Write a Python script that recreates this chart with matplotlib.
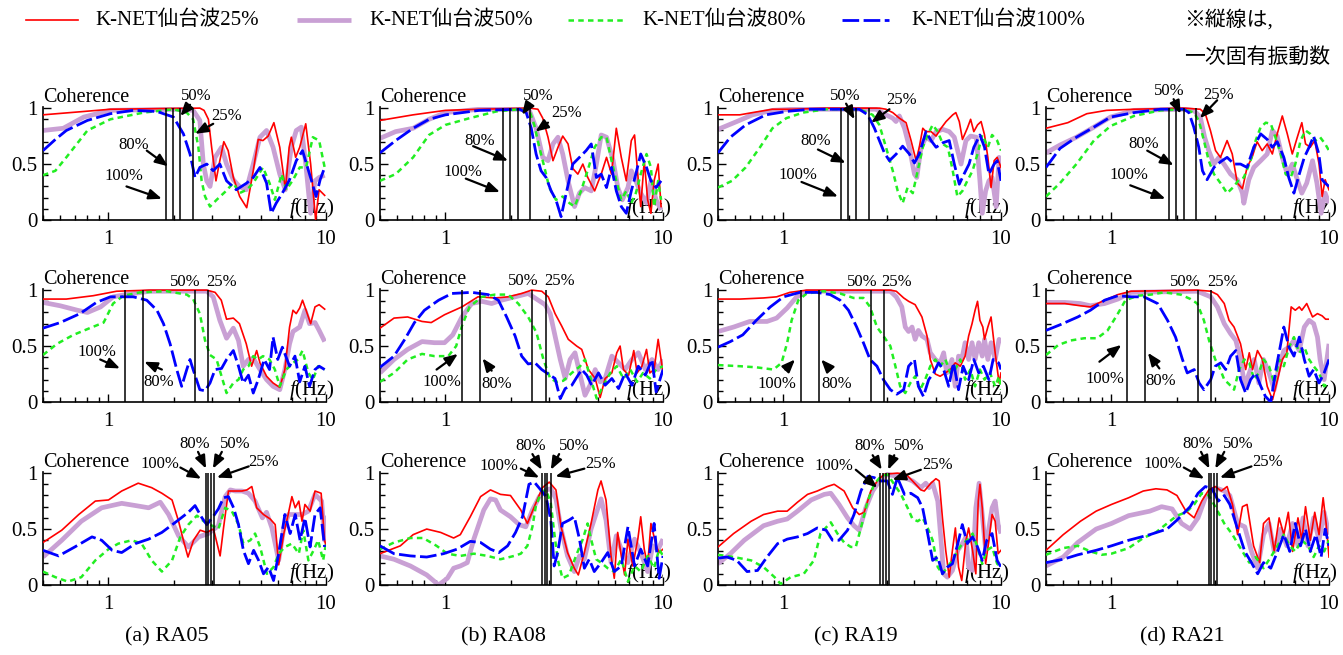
import matplotlib
matplotlib.use('Agg')
import matplotlib.pyplot as plt
from matplotlib.lines import Line2D
from matplotlib.ticker import FixedLocator, MultipleLocator, LogLocator, NullFormatter

plt.rcParams['font.family'] = ['Liberation Serif', 'Noto Sans CJK JP']
plt.rcParams['mathtext.fontset'] = 'custom'
plt.rcParams['mathtext.it'] = 'Liberation Serif:italic'
plt.rcParams['mathtext.rm'] = 'Liberation Serif'

# ---------------- data: (frequency Hz, coherence) ----------------
series_labels = ['K-NET仙台波25%', 'K-NET仙台波50%', 'K-NET仙台波80%', 'K-NET仙台波100%']
panel_titles = ['(a) RA05', '(b) RA08', '(c) RA19', '(d) RA21']

a1_25 = [(0.50,0.94),(0.77,0.97),(1.02,0.99),(2.63,1.00),(2.75,0.98),(2.88,0.90),(2.98,0.65),(3.12,0.35),(3.25,0.53),(3.39,0.70),(3.55,0.62),(3.75,0.38),(4.01,0.21),(4.32,0.11),(4.63,0.44),(4.88,0.72),(5.13,0.71),(5.42,0.75),(5.76,0.87),(6.13,0.65),(6.51,0.27),(6.77,0.65),(6.93,0.74),(7.25,0.56),(7.57,0.65),(8.07,0.86),(8.50,0.50),(8.96,0.00),(9.29,0.27),(9.86,0.22)]
a1_50 = [(0.50,0.80),(0.62,0.82),(0.77,0.92),(1.02,0.98),(2.13,0.99),(2.45,0.98),(2.63,0.89),(2.73,0.50),(2.83,0.35),(2.93,0.30),(3.09,0.56),(3.31,0.65),(3.49,0.50),(3.75,0.36),(4.00,0.30),(4.30,0.27),(4.63,0.50),(4.97,0.74),(5.33,0.80),(5.71,0.65),(6.13,0.41),(6.50,0.27),(6.93,0.65),(7.30,0.80),(7.70,0.83),(8.07,0.50),(8.50,0.06),(8.90,0.35),(9.30,0.38),(9.86,0.40)]
a1_80 = [(0.50,0.40),(0.57,0.44),(0.64,0.56),(0.80,0.80),(1.02,0.90),(1.45,0.96),(1.99,0.99),(2.29,0.96),(2.45,0.90),(2.59,0.65),(2.68,0.35),(2.78,0.21),(2.93,0.12),(3.14,0.18),(3.43,0.25),(3.75,0.33),(4.00,0.24),(4.32,0.27),(4.63,0.33),(5.13,0.47),(5.50,0.33),(5.82,0.18),(6.25,0.41),(6.57,0.27),(7.06,0.36),(7.57,0.47),(8.10,0.47),(8.70,0.74),(9.30,0.71),(9.86,0.47)]
a1_100 = [(0.50,0.62),(0.57,0.72),(0.64,0.80),(0.80,0.89),(1.02,0.95),(1.30,0.98),(1.67,0.97),(1.99,0.92),(2.21,0.77),(2.37,0.59),(2.50,0.38),(2.63,0.47),(2.83,0.50),(3.03,0.44),(3.25,0.50),(3.49,0.35),(3.87,0.27),(4.32,0.33),(4.63,0.38),(4.97,0.47),(5.33,0.33),(5.60,0.06),(5.90,0.15),(6.30,0.24),(6.80,0.36),(7.30,0.53),(7.80,0.62),(8.40,0.41),(9.00,0.21),(9.40,0.36),(9.86,0.47)]

a2_25 = [(0.50,0.92),(0.64,0.92),(0.85,0.95),(1.09,0.99),(1.55,1.00),(2.83,1.00),(3.09,0.98),(3.30,0.91),(3.49,0.74),(3.75,0.75),(4.00,0.70),(4.30,0.52),(4.55,0.32),(4.80,0.46),(4.97,0.35),(5.33,0.23),(5.71,0.17),(6.13,0.13),(6.47,0.29),(6.80,0.67),(7.05,0.82),(7.30,0.79),(7.57,0.84),(7.80,0.91),(8.10,0.82),(8.50,0.70),(8.90,0.85),(9.30,0.87),(9.86,0.83)]
a2_50 = [(0.50,0.89),(0.60,0.86),(0.72,0.82),(0.80,0.80),(0.92,0.85),(1.05,0.94),(1.20,0.96),(1.55,0.99),(2.83,0.99),(3.03,0.94),(3.25,0.73),(3.49,0.57),(3.75,0.66),(3.96,0.55),(4.16,0.32),(4.40,0.38),(4.63,0.39),(4.97,0.29),(5.33,0.20),(5.71,0.14),(6.13,0.11),(6.47,0.29),(6.80,0.52),(7.05,0.63),(7.57,0.67),(8.00,0.82),(8.40,0.70),(8.90,0.71),(9.30,0.64),(9.86,0.54)]
a2_80 = [(0.50,0.42),(0.58,0.52),(0.69,0.60),(0.82,0.66),(0.95,0.71),(1.05,0.88),(1.17,0.95),(1.40,0.98),(1.85,0.99),(2.29,0.96),(2.45,0.92),(2.63,0.79),(2.78,0.55),(2.93,0.42),(3.14,0.38),(3.31,0.23),(3.49,0.08),(3.75,0.17),(3.96,0.20),(4.16,0.29),(4.40,0.32),(4.63,0.41),(4.88,0.38),(5.13,0.41),(5.50,0.38),(5.82,0.29),(6.13,0.14),(6.57,0.29),(7.06,0.35),(7.44,0.38),(7.80,0.46),(8.30,0.26),(8.70,0.20),(9.20,0.32),(9.86,0.29)]
a2_100 = [(0.50,0.66),(0.60,0.71),(0.74,0.79),(0.88,0.89),(1.02,0.94),(1.30,0.94),(1.50,0.91),(1.67,0.82),(1.79,0.70),(1.92,0.52),(2.06,0.29),(2.17,0.14),(2.29,0.29),(2.37,0.38),(2.45,0.29),(2.63,0.11),(2.78,0.10),(2.93,0.17),(3.09,0.29),(3.31,0.30),(3.49,0.38),(3.75,0.46),(3.96,0.32),(4.16,0.17),(4.40,0.24),(4.63,0.08),(4.88,0.20),(5.20,0.38),(5.50,0.29),(5.71,0.58),(6.00,0.38),(6.30,0.49),(6.80,0.32),(7.20,0.41),(7.57,0.18),(8.00,0.32),(8.40,0.14),(8.90,0.29),(9.30,0.32),(9.86,0.29)]

a3_25 = [(0.50,0.38),(0.61,0.49),(0.73,0.63),(0.87,0.75),(1.00,0.76),(1.15,0.84),(1.37,0.91),(1.58,0.87),(1.76,0.82),(1.96,0.76),(2.10,0.57),(2.21,0.40),(2.32,0.25),(2.46,0.40),(2.64,0.49),(2.83,0.47),(3.04,0.50),(3.26,0.26),(3.38,0.51),(3.56,0.84),(3.83,0.84),(4.11,0.84),(4.33,0.85),(4.56,0.88),(4.80,0.69),(5.16,0.63),(5.54,0.59),(5.84,0.54),(6.06,0.18),(6.40,0.46),(6.70,0.63),(6.97,0.79),(7.22,0.69),(7.50,0.75),(7.76,0.57),(8.00,0.72),(8.45,0.66),(8.90,0.84),(9.50,0.82),(9.85,0.40),(10.0,0.35)]
a3_50 = [(0.50,0.25),(0.61,0.40),(0.75,0.57),(0.93,0.69),(1.15,0.73),(1.33,0.71),(1.53,0.69),(1.73,0.74),(1.89,0.63),(2.10,0.44),(2.33,0.34),(2.60,0.43),(2.88,0.46),(3.20,0.53),(3.44,0.79),(3.63,0.85),(3.83,0.84),(4.11,0.84),(4.40,0.82),(4.72,0.75),(5.10,0.60),(5.33,0.65),(5.64,0.51),(6.06,0.22),(6.40,0.51),(6.72,0.63),(7.22,0.63),(7.76,0.63),(8.30,0.66),(8.90,0.81),(9.55,0.75),(9.85,0.40),(10.0,0.62)]
a3_80 = [(0.50,0.12),(0.57,0.07),(0.65,0.03),(0.75,0.07),(0.87,0.22),(1.00,0.32),(1.11,0.37),(1.28,0.40),(1.42,0.37),(1.58,0.22),(1.76,0.12),(1.96,0.22),(2.14,0.43),(2.33,0.54),(2.55,0.62),(2.74,0.57),(2.93,0.54),(3.20,0.50),(3.44,0.69),(3.69,0.66),(3.96,0.54),(4.17,0.37),(4.49,0.40),(4.72,0.46),(4.98,0.34),(5.35,0.10),(5.74,0.16),(6.06,0.28),(6.47,0.34),(6.97,0.37),(7.50,0.28),(7.86,0.49),(8.30,0.22),(8.77,0.31),(9.20,0.40),(9.70,0.22),(10.0,0.37)]
a3_100 = [(0.50,0.31),(0.59,0.26),(0.70,0.34),(0.84,0.43),(0.93,0.40),(1.04,0.31),(1.15,0.29),(1.33,0.37),(1.53,0.41),(1.76,0.47),(2.03,0.56),(2.33,0.65),(2.50,0.71),(2.69,0.60),(2.83,0.54),(3.00,0.60),(3.20,0.68),(3.38,0.78),(3.56,0.79),(3.76,0.69),(3.96,0.54),(4.17,0.31),(4.40,0.19),(4.65,0.31),(4.90,0.22),(5.16,0.10),(5.44,0.16),(5.74,0.04),(6.06,0.28),(6.47,0.63),(6.84,0.46),(7.22,0.63),(7.60,0.40),(8.00,0.60),(8.45,0.34),(8.90,0.63),(9.40,0.69),(9.85,0.34)]

b1_25 = [(0.50,0.89),(0.71,0.94),(1.00,0.98),(1.43,0.99),(2.44,1.00),(2.66,0.99),(2.80,0.91),(2.96,0.74),(3.12,0.53),(3.29,0.65),(3.46,0.75),(3.66,0.68),(3.85,0.46),(4.06,0.41),(4.28,0.50),(4.51,0.38),(4.85,0.26),(5.20,0.41),(5.50,0.56),(5.80,0.41),(6.10,0.82),(6.43,0.56),(6.78,0.35),(7.15,0.71),(7.40,0.76),(7.70,0.35),(7.90,0.12),(8.20,0.53),(8.50,0.18),(8.80,0.06),(9.10,0.35),(9.50,0.50),(9.80,0.12)]
b1_50 = [(0.50,0.73),(0.59,0.79),(0.71,0.82),(0.84,0.90),(1.00,0.96),(1.43,0.99),(2.27,0.99),(2.44,0.97),(2.61,0.82),(2.80,0.56),(2.96,0.53),(3.12,0.68),(3.29,0.74),(3.46,0.59),(3.66,0.35),(3.92,0.12),(4.13,0.24),(4.36,0.29),(4.68,0.26),(4.94,0.50),(5.20,0.76),(5.50,0.74),(5.90,0.53),(6.20,0.29),(6.50,0.18),(6.90,0.29),(7.15,0.44),(7.50,0.35),(7.90,0.24),(8.40,0.15),(8.80,0.35),(9.30,0.18),(9.80,0.09)]
b1_80 = [(0.50,0.35),(0.59,0.41),(0.71,0.56),(0.84,0.76),(1.00,0.85),(1.29,0.91),(1.71,0.97),(2.19,0.99),(2.44,0.97),(2.56,0.85),(2.70,0.65),(2.85,0.47),(3.00,0.29),(3.22,0.18),(3.46,0.21),(3.72,0.15),(3.92,0.12),(4.20,0.26),(4.50,0.44),(4.85,0.65),(5.20,0.74),(5.50,0.74),(5.80,0.53),(6.10,0.35),(6.43,0.18),(6.78,0.26),(7.15,0.15),(7.50,0.24),(7.90,0.41),(8.40,0.59),(8.80,0.47),(9.10,0.12),(9.50,0.35),(9.80,0.18)]
b1_100 = [(0.50,0.60),(0.59,0.71),(0.71,0.82),(0.84,0.90),(1.00,0.94),(1.43,0.98),(2.19,0.99),(2.35,0.96),(2.48,0.82),(2.61,0.59),(2.75,0.44),(2.90,0.38),(3.06,0.26),(3.22,0.18),(3.40,0.03),(3.59,0.24),(3.85,0.50),(4.13,0.56),(4.43,0.62),(4.68,0.68),(4.94,0.38),(5.20,0.41),(5.50,0.29),(5.80,0.47),(6.10,0.26),(6.43,0.12),(6.78,0.06),(7.15,0.26),(7.50,0.41),(7.90,0.59),(8.40,0.47),(8.80,0.35),(9.30,0.29),(9.80,0.35)]

b2_25 = [(0.50,0.66),(0.58,0.75),(0.67,0.76),(0.78,0.72),(0.86,0.71),(0.99,0.78),(1.19,0.85),(1.41,0.94),(1.69,0.93),(1.94,0.94),(2.24,0.97),(2.49,1.00),(2.77,0.99),(2.97,0.94),(3.19,0.79),(3.42,0.68),(3.67,0.56),(4.01,0.50),(4.23,0.47),(4.54,0.29),(4.88,0.21),(5.14,0.04),(5.42,0.21),(5.82,0.26),(6.13,0.44),(6.35,0.50),(6.58,0.29),(6.95,0.24),(7.34,0.46),(7.60,0.26),(8.00,0.32),(8.40,0.47),(8.70,0.26),(9.10,0.29),(9.50,0.56),(10.0,0.26)]
b2_50 = [(0.50,0.26),(0.58,0.38),(0.67,0.47),(0.78,0.54),(0.89,0.53),(0.99,0.53),(1.08,0.60),(1.19,0.76),(1.32,0.88),(1.47,0.90),(1.63,0.88),(1.81,0.91),(2.09,0.94),(2.40,0.97),(2.67,0.91),(2.87,0.87),(3.03,0.79),(3.19,0.59),(3.37,0.38),(3.55,0.21),(3.74,0.38),(3.94,0.44),(4.16,0.24),(4.38,0.06),(4.62,0.15),(4.88,0.29),(5.14,0.18),(5.42,0.21),(5.82,0.41),(6.25,0.35),(6.70,0.29),(7.20,0.38),(7.70,0.44),(8.30,0.29),(8.90,0.38),(9.50,0.29),(10.0,0.38)]
b2_80 = [(0.50,0.18),(0.58,0.26),(0.67,0.38),(0.78,0.43),(0.89,0.41),(1.03,0.41),(1.12,0.50),(1.19,0.68),(1.29,0.85),(1.47,0.94),(1.69,0.96),(1.94,0.96),(2.16,0.88),(2.40,0.76),(2.62,0.62),(2.82,0.38),(3.03,0.21),(3.25,0.18),(3.48,0.19),(3.81,0.26),(4.16,0.32),(4.38,0.38),(4.70,0.18),(4.96,0.03),(5.33,0.15),(5.72,0.26),(6.13,0.32),(6.58,0.21),(7.07,0.29),(7.60,0.18),(8.10,0.26),(8.70,0.21),(9.30,0.29),(10.0,0.32)]
b2_100 = [(0.50,0.31),(0.58,0.41),(0.65,0.56),(0.72,0.71),(0.80,0.82),(0.93,0.91),(1.07,0.97),(1.32,0.98),(1.57,0.96),(1.75,0.91),(1.91,0.76),(2.09,0.59),(2.24,0.41),(2.40,0.34),(2.58,0.35),(2.77,0.29),(2.97,0.25),(3.19,0.21),(3.37,0.03),(3.55,0.12),(3.81,0.15),(4.01,0.22),(4.23,0.29),(4.46,0.24),(4.70,0.15),(5.05,0.26),(5.42,0.15),(5.82,0.21),(6.25,0.12),(6.70,0.26),(7.20,0.15),(7.70,0.32),(8.30,0.24),(8.90,0.38),(9.30,0.09),(10.0,0.29)]

b3_25 = [(0.50,0.28),(0.62,0.35),(0.71,0.45),(0.82,0.50),(0.95,0.47),(1.09,0.42),(1.17,0.45),(1.30,0.61),(1.45,0.79),(1.61,0.85),(1.79,0.81),(1.99,0.80),(2.22,0.67),(2.38,0.55),(2.60,0.73),(2.79,0.87),(3.00,0.92),(3.22,0.85),(3.40,0.52),(3.64,0.29),(3.91,0.15),(4.08,0.09),(4.35,0.29),(4.67,0.55),(5.02,0.85),(5.19,0.93),(5.47,0.76),(5.77,0.26),(5.97,0.06),(6.19,0.47),(6.43,0.26),(6.66,0.09),(6.90,0.41),(7.26,0.17),(7.66,0.41),(7.90,0.61),(8.20,0.32),(8.50,0.17),(8.80,0.55),(9.30,0.35),(9.60,0.29),(10.0,0.32)]
b3_50 = [(0.50,0.26),(0.58,0.23),(0.69,0.17),(0.82,0.09),(0.93,0.00),(1.02,0.06),(1.09,0.15),(1.17,0.17),(1.26,0.20),(1.35,0.41),(1.50,0.67),(1.61,0.77),(1.70,0.76),(1.79,0.67),(1.99,0.61),(2.18,0.54),(2.34,0.52),(2.51,0.67),(2.70,0.79),(2.90,0.85),(3.05,0.86),(3.22,0.77),(3.40,0.50),(3.64,0.26),(3.91,0.12),(4.13,0.26),(4.35,0.23),(4.67,0.50),(4.93,0.64),(5.19,0.77),(5.47,0.58),(5.77,0.20),(6.10,0.44),(6.43,0.32),(6.90,0.20),(7.40,0.41),(7.90,0.29),(8.50,0.12),(8.97,0.35),(9.50,0.32),(10.0,0.41)]
b3_80 = [(0.50,0.32),(0.58,0.38),(0.69,0.42),(0.79,0.42),(0.91,0.35),(1.02,0.28),(1.17,0.26),(1.35,0.28),(1.56,0.26),(1.79,0.23),(2.07,0.26),(2.22,0.28),(2.38,0.35),(2.51,0.52),(2.60,0.70),(2.74,0.82),(2.90,0.85),(3.05,0.73),(3.16,0.47),(3.28,0.23),(3.45,0.06),(3.70,0.09),(3.98,0.26),(4.28,0.41),(4.50,0.55),(4.67,0.41),(4.93,0.23),(5.19,0.20),(5.57,0.15),(5.97,0.12),(6.43,0.23),(6.90,0.03),(7.40,0.17),(7.90,0.12),(8.50,0.26),(9.10,0.15),(9.60,0.32),(10.0,0.26)]
b3_100 = [(0.50,0.35),(0.58,0.28),(0.69,0.26),(0.82,0.25),(0.98,0.28),(1.13,0.32),(1.30,0.39),(1.45,0.38),(1.61,0.32),(1.76,0.29),(1.93,0.35),(2.10,0.47),(2.26,0.61),(2.42,0.90),(2.56,0.92),(2.74,0.85),(2.90,0.79),(3.05,0.58),(3.16,0.17),(3.28,0.29),(3.45,0.55),(3.70,0.58),(3.91,0.61),(4.13,0.41),(4.35,0.15),(4.58,0.23),(4.83,0.12),(5.19,0.20),(5.57,0.29),(5.97,0.12),(6.43,0.17),(6.90,0.52),(7.40,0.17),(7.90,0.32),(8.50,0.17),(9.10,0.55),(9.60,0.06),(10.0,0.26)]

c1_25 = [(0.50,0.94),(0.63,0.94),(0.72,0.96),(0.89,0.99),(1.10,0.99),(1.57,1.00),(2.76,1.00),(2.96,0.99),(3.18,0.96),(3.41,0.91),(3.66,0.87),(3.86,0.71),(4.07,0.53),(4.21,0.65),(4.37,0.82),(4.52,0.79),(4.77,0.79),(5.03,0.75),(5.30,0.82),(5.59,0.88),(6.00,0.94),(6.20,0.96),(6.43,0.88),(6.65,0.72),(7.00,0.82),(7.25,0.90),(7.50,0.79),(7.80,0.85),(8.10,0.88),(8.40,0.76),(8.70,0.56),(9.00,0.29),(9.30,0.53),(9.60,0.56),(10.0,0.47)]
c1_50 = [(0.50,0.81),(0.61,0.88),(0.72,0.94),(0.89,0.98),(1.10,0.99),(2.23,0.99),(2.66,0.99),(2.96,0.94),(3.18,0.91),(3.29,0.88),(3.41,0.93),(3.60,0.82),(3.79,0.65),(4.00,0.41),(4.10,0.38),(4.29,0.65),(4.52,0.74),(4.77,0.71),(5.03,0.79),(5.40,0.81),(5.78,0.79),(6.10,0.74),(6.55,0.50),(6.90,0.71),(7.25,0.75),(7.70,0.74),(8.00,0.35),(8.20,0.06),(8.50,0.26),(8.80,0.35),(9.10,0.38),(9.50,0.12),(9.80,0.56),(10.0,0.44)]
c1_80 = [(0.50,0.29),(0.58,0.35),(0.67,0.47),(0.78,0.65),(0.89,0.82),(1.03,0.91),(1.23,0.96),(1.57,0.99),(2.23,0.99),(2.57,0.94),(2.76,0.85),(2.96,0.65),(3.18,0.44),(3.35,0.26),(3.53,0.15),(3.72,0.29),(3.93,0.24),(4.14,0.44),(4.37,0.65),(4.60,0.76),(4.85,0.85),(5.12,0.79),(5.40,0.68),(5.70,0.65),(6.00,0.44),(6.30,0.21),(6.65,0.26),(7.00,0.35),(7.40,0.44),(7.80,0.59),(8.20,0.76),(8.70,0.65),(9.10,0.76),(9.60,0.71),(10.0,0.62)]
c1_100 = [(0.50,0.60),(0.57,0.74),(0.67,0.85),(0.83,0.94),(1.03,0.97),(1.32,0.99),(1.94,0.99),(2.23,0.99),(2.44,0.94),(2.62,0.82),(2.76,0.71),(2.91,0.60),(3.07,0.53),(3.30,0.59),(3.53,0.66),(3.79,0.59),(4.00,0.51),(4.21,0.59),(4.52,0.79),(4.77,0.71),(5.03,0.65),(5.40,0.69),(5.78,0.71),(6.10,0.50),(6.43,0.32),(6.76,0.41),(7.13,0.50),(7.50,0.65),(8.00,0.76),(8.40,0.65),(8.80,0.41),(9.30,0.50),(9.60,0.53),(10.0,0.35)]

c2_25 = [(0.50,0.92),(0.63,0.92),(0.81,0.93),(0.93,0.94),(1.07,0.98),(1.28,1.00),(1.82,1.00),(3.10,1.00),(3.30,0.99),(3.57,0.93),(3.76,0.90),(4.03,0.87),(4.33,0.76),(4.57,0.59),(4.73,0.38),(4.99,0.25),(5.25,0.23),(5.55,0.26),(5.85,0.29),(6.16,0.35),(6.50,0.32),(6.84,0.41),(7.10,0.59),(7.36,0.70),(7.60,0.82),(7.80,0.90),(8.00,0.73),(8.25,0.67),(8.40,0.56),(8.70,0.67),(9.00,0.76),(9.40,0.44),(9.80,0.17),(10.0,0.26)]
c2_50 = [(0.50,0.63),(0.59,0.67),(0.70,0.72),(0.84,0.72),(0.93,0.75),(1.04,0.84),(1.15,0.94),(1.28,0.99),(1.82,0.99),(3.10,0.99),(3.30,0.94),(3.50,0.85),(3.63,0.67),(3.76,0.63),(3.90,0.67),(4.03,0.56),(4.17,0.64),(4.33,0.59),(4.57,0.56),(4.73,0.44),(4.99,0.38),(5.25,0.35),(5.45,0.44),(5.63,0.26),(5.95,0.38),(6.16,0.14),(6.38,0.41),(6.60,0.38),(6.84,0.53),(7.10,0.38),(7.36,0.53),(7.60,0.38),(7.90,0.53),(8.20,0.41),(8.40,0.56),(8.70,0.38),(9.00,0.53),(9.40,0.38),(9.80,0.56),(10.0,0.53)]
c2_80 = [(0.50,0.33),(0.63,0.32),(0.75,0.31),(0.90,0.29),(0.98,0.35),(1.04,0.53),(1.09,0.73),(1.17,0.91),(1.28,0.97),(1.53,0.99),(1.82,0.97),(2.10,0.93),(2.33,0.93),(2.50,0.85),(2.69,0.67),(2.88,0.59),(3.10,0.50),(3.27,0.32),(3.44,0.14),(3.63,0.08),(3.83,0.17),(4.03,0.23),(4.25,0.11),(4.48,0.20),(4.73,0.32),(4.99,0.38),(5.25,0.32),(5.55,0.38),(5.85,0.26),(6.16,0.29),(6.50,0.38),(6.84,0.20),(7.23,0.29),(7.60,0.14),(8.00,0.29),(8.40,0.20),(8.90,0.26),(9.40,0.14),(9.80,0.23),(10.0,0.11)]
c2_100 = [(0.50,0.49),(0.57,0.54),(0.65,0.60),(0.75,0.73),(0.87,0.85),(1.00,0.94),(1.19,0.98),(1.42,0.98),(1.64,0.96),(1.82,0.91),(1.99,0.82),(2.17,0.67),(2.33,0.53),(2.50,0.38),(2.69,0.32),(2.88,0.20),(3.10,0.11),(3.32,0.07),(3.57,0.11),(3.76,0.32),(4.00,0.38),(4.17,0.14),(4.40,0.05),(4.65,0.20),(4.90,0.26),(5.16,0.35),(5.45,0.29),(5.75,0.14),(6.05,0.35),(6.38,0.11),(6.70,0.32),(7.10,0.20),(7.50,0.38),(7.90,0.26),(8.30,0.32),(8.80,0.20),(9.20,0.38),(9.75,0.35),(10.0,0.29)]

c3_25 = [(0.50,0.34),(0.59,0.46),(0.71,0.57),(0.81,0.63),(0.94,0.66),(1.04,0.66),(1.16,0.74),(1.29,0.81),(1.43,0.84),(1.59,0.88),(1.71,0.90),(1.90,0.84),(2.08,0.69),(2.23,0.63),(2.35,0.65),(2.52,0.84),(2.70,0.93),(2.90,0.99),(3.34,1.00),(3.66,0.99),(3.92,0.93),(4.28,0.85),(4.44,0.84),(4.76,0.91),(5.02,0.95),(5.20,0.93),(5.38,0.60),(5.57,0.31),(5.78,0.07),(5.98,0.31),(6.17,0.51),(6.38,0.16),(6.60,0.04),(6.90,0.40),(7.10,0.51),(7.40,0.31),(7.66,0.10),(7.86,0.75),(8.00,0.90),(8.20,0.69),(8.50,0.19),(8.80,0.40),(9.10,0.63),(9.40,0.57),(9.70,0.28),(10.0,0.31)]
c3_50 = [(0.50,0.19),(0.57,0.28),(0.66,0.40),(0.81,0.53),(0.94,0.57),(1.04,0.59),(1.16,0.66),(1.34,0.76),(1.54,0.81),(1.65,0.82),(1.80,0.72),(1.97,0.60),(2.11,0.53),(2.23,0.49),(2.39,0.69),(2.57,0.84),(2.76,0.93),(3.00,0.99),(3.34,0.97),(3.60,0.96),(3.92,0.93),(4.28,0.87),(4.51,0.91),(4.67,0.87),(4.85,0.91),(5.12,0.75),(5.30,0.40),(5.45,0.10),(5.67,0.07),(5.98,0.13),(6.33,0.31),(6.64,0.37),(6.90,0.43),(7.10,0.16),(7.40,0.13),(7.66,0.69),(7.93,0.91),(8.20,0.63),(8.50,0.31),(8.80,0.51),(9.10,0.69),(9.40,0.75),(9.70,0.54),(10.0,0.46)]
c3_80 = [(0.50,0.27),(0.59,0.25),(0.71,0.22),(0.81,0.16),(0.91,0.07),(0.97,0.01),(1.08,0.07),(1.24,0.10),(1.38,0.22),(1.48,0.46),(1.65,0.56),(1.77,0.46),(1.90,0.38),(2.04,0.34),(2.15,0.34),(2.27,0.51),(2.44,0.75),(2.61,0.90),(2.80,0.97),(3.00,0.99),(3.23,0.90),(3.47,0.81),(3.72,0.69),(3.92,0.59),(4.14,0.57),(4.36,0.60),(4.60,0.51),(4.85,0.40),(5.12,0.16),(5.38,0.10),(5.67,0.16),(5.98,0.22),(6.33,0.31),(6.64,0.37),(7.00,0.40),(7.40,0.46),(7.80,0.34),(8.20,0.19),(8.60,0.31),(9.10,0.34),(9.60,0.19),(10.0,0.16)]
c3_100 = [(0.50,0.24),(0.55,0.25),(0.61,0.22),(0.68,0.12),(0.76,0.13),(0.84,0.25),(0.94,0.37),(1.04,0.41),(1.16,0.43),(1.29,0.46),(1.43,0.51),(1.57,0.49),(1.68,0.40),(1.80,0.40),(1.97,0.49),(2.11,0.63),(2.27,0.84),(2.44,0.97),(2.61,0.96),(2.80,0.93),(3.00,0.93),(3.17,0.81),(3.34,0.96),(3.60,0.81),(3.85,0.82),(4.14,0.78),(4.36,0.69),(4.60,0.46),(4.85,0.22),(5.12,0.25),(5.38,0.10),(5.67,0.16),(5.98,0.19),(6.33,0.37),(6.64,0.54),(7.00,0.37),(7.40,0.43),(7.80,0.34),(8.20,0.22),(8.60,0.40),(9.10,0.46),(9.60,0.22),(10.0,0.16)]

d1_25 = [(0.50,0.82),(0.63,0.87),(0.77,0.95),(0.95,0.98),(1.27,0.99),(2.15,1.00),(2.56,0.99),(2.70,0.95),(2.85,0.80),(3.01,0.62),(3.17,0.56),(3.40,0.71),(3.59,0.59),(3.79,0.33),(4.00,0.28),(4.20,0.47),(4.43,0.56),(4.67,0.70),(4.93,0.62),(5.20,0.68),(5.49,0.59),(5.78,0.77),(6.10,0.93),(6.43,0.77),(6.78,0.59),(7.15,0.74),(7.50,0.87),(7.80,0.68),(8.20,0.65),(8.60,0.71),(9.00,0.50),(9.30,0.21),(9.60,0.36),(10.0,0.27)]
d1_50 = [(0.50,0.60),(0.58,0.67),(0.69,0.74),(0.83,0.83),(0.99,0.92),(1.27,0.98),(2.15,0.99),(2.39,0.98),(2.56,0.92),(2.68,0.74),(2.80,0.62),(2.96,0.50),(3.12,0.56),(3.29,0.50),(3.53,0.41),(3.79,0.36),(4.00,0.24),(4.06,0.15),(4.28,0.36),(4.51,0.47),(4.85,0.53),(5.20,0.59),(5.49,0.80),(5.78,0.75),(6.10,0.56),(6.43,0.41),(6.78,0.50),(7.15,0.36),(7.50,0.24),(7.90,0.33),(8.40,0.53),(8.80,0.33),(9.20,0.06),(9.60,0.24),(10.0,0.15)]
d1_80 = [(0.50,0.21),(0.58,0.33),(0.69,0.50),(0.83,0.71),(0.99,0.84),(1.27,0.93),(1.68,0.98),(2.15,0.99),(2.39,0.96),(2.52,0.89),(2.66,0.71),(2.80,0.53),(2.96,0.41),(3.17,0.33),(3.40,0.24),(3.66,0.30),(3.85,0.36),(4.06,0.38),(4.36,0.53),(4.60,0.71),(4.85,0.83),(5.12,0.87),(5.40,0.86),(5.67,0.74),(6.00,0.59),(6.32,0.41),(6.67,0.38),(7.00,0.50),(7.40,0.71),(7.80,0.80),(8.20,0.77),(8.66,0.71),(9.10,0.74),(9.60,0.68),(10.0,0.62)]
d1_100 = [(0.50,0.47),(0.58,0.64),(0.69,0.74),(0.83,0.83),(0.99,0.92),(1.27,0.96),(1.68,0.99),(2.15,0.99),(2.27,0.96),(2.39,0.83),(2.52,0.65),(2.62,0.44),(2.75,0.36),(2.96,0.47),(3.17,0.52),(3.40,0.56),(3.66,0.50),(3.92,0.50),(4.20,0.47),(4.51,0.65),(4.85,0.77),(5.20,0.72),(5.49,0.65),(5.78,0.70),(6.20,0.56),(6.53,0.38),(6.90,0.24),(7.30,0.41),(7.70,0.56),(8.10,0.65),(8.50,0.75),(8.98,0.59),(9.30,0.36),(9.60,0.33),(10.0,0.30)]

d2_25 = [(0.50,0.88),(0.61,0.88),(0.72,0.86),(0.80,0.85),(0.93,0.91),(1.07,0.96),(1.23,0.99),(2.48,1.00),(2.86,0.99),(3.07,0.96),(3.30,0.88),(3.47,0.73),(3.66,0.67),(3.92,0.52),(4.14,0.29),(4.30,0.44),(4.45,0.29),(4.69,0.46),(4.94,0.38),(5.20,0.14),(5.50,0.02),(5.80,0.20),(6.10,0.38),(6.40,0.44),(6.70,0.85),(7.00,0.82),(7.30,0.85),(7.50,0.82),(7.90,0.88),(8.40,0.76),(8.85,0.79),(9.30,0.77),(9.65,0.74),(10.0,0.74)]
d2_50 = [(0.50,0.89),(0.61,0.89),(0.72,0.88),(0.80,0.86),(0.93,0.88),(1.07,0.92),(1.23,0.98),(2.48,0.99),(2.86,0.94),(3.07,0.85),(3.30,0.70),(3.53,0.61),(3.73,0.55),(3.92,0.38),(4.10,0.14),(4.30,0.26),(4.53,0.38),(4.76,0.17),(5.00,0.38),(5.30,0.26),(5.60,0.11),(5.90,0.32),(6.20,0.46),(6.55,0.49),(6.90,0.55),(7.30,0.46),(7.70,0.67),(8.10,0.73),(8.50,0.70),(8.85,0.58),(9.10,0.38),(9.50,0.20),(10.0,0.52)]
d2_80 = [(0.50,0.42),(0.57,0.51),(0.65,0.55),(0.75,0.57),(0.86,0.57),(0.96,0.64),(1.07,0.79),(1.16,0.91),(1.32,0.95),(1.52,0.96),(1.74,0.98),(2.08,0.96),(2.31,0.92),(2.48,0.88),(2.66,0.73),(2.81,0.55),(3.00,0.38),(3.12,0.32),(3.30,0.20),(3.47,0.16),(3.66,0.11),(3.86,0.29),(4.08,0.38),(4.30,0.35),(4.53,0.20),(4.76,0.26),(5.00,0.38),(5.30,0.32),(5.60,0.17),(5.90,0.38),(6.20,0.32),(6.55,0.49),(6.90,0.58),(7.30,0.44),(7.70,0.49),(8.10,0.38),(8.50,0.32),(9.00,0.26),(9.50,0.14),(10.0,0.17)]
d2_100 = [(0.50,0.64),(0.58,0.69),(0.70,0.76),(0.80,0.82),(0.93,0.91),(1.07,0.95),(1.23,0.94),(1.41,0.94),(1.63,0.88),(1.81,0.73),(1.97,0.58),(2.12,0.38),(2.23,0.26),(2.40,0.29),(2.53,0.17),(2.66,0.11),(2.86,0.20),(3.00,0.32),(3.18,0.35),(3.35,0.29),(3.53,0.41),(3.73,0.46),(3.92,0.20),(4.14,0.08),(4.36,0.20),(4.60,0.26),(4.86,0.14),(5.10,0.05),(5.40,0.00),(5.70,0.29),(6.00,0.52),(6.20,0.67),(6.55,0.49),(6.90,0.41),(7.30,0.58),(7.70,0.38),(8.10,0.23),(8.50,0.29),(9.00,0.17),(9.50,0.26),(10.0,0.38)]

d3_25 = [(0.50,0.31),(0.60,0.45),(0.72,0.57),(0.85,0.66),(1.00,0.72),(1.20,0.78),(1.40,0.84),(1.60,0.86),(1.80,0.85),(2.00,0.80),(2.20,0.66),(2.40,0.60),(2.60,0.75),(2.80,0.85),(3.00,0.88),(3.20,0.84),(3.40,0.88),(3.60,0.72),(3.80,0.45),(4.00,0.70),(4.20,0.72),(4.50,0.35),(4.80,0.20),(5.00,0.55),(5.30,0.60),(5.60,0.30),(5.90,0.60),(6.20,0.45),(6.50,0.65),(6.80,0.30),(7.20,0.60),(7.50,0.40),(7.80,0.70),(8.20,0.40),(8.60,0.65),(9.00,0.45),(9.40,0.78),(9.70,0.55),(10.0,0.25)]
d3_50 = [(0.50,0.17),(0.60,0.25),(0.70,0.38),(0.85,0.50),(1.00,0.55),(1.20,0.62),(1.50,0.66),(1.70,0.70),(1.90,0.68),(2.10,0.55),(2.30,0.50),(2.50,0.60),(2.70,0.78),(2.90,0.85),(3.10,0.86),(3.30,0.84),(3.50,0.80),(3.80,0.55),(4.10,0.52),(4.40,0.30),(4.70,0.15),(5.00,0.45),(5.30,0.55),(5.60,0.30),(6.00,0.50),(6.40,0.35),(6.80,0.55),(7.20,0.35),(7.60,0.60),(8.00,0.35),(8.50,0.60),(9.00,0.40),(9.50,0.65),(10.0,0.45)]
d3_80 = [(0.50,0.27),(0.60,0.33),(0.70,0.35),(0.80,0.30),(0.90,0.27),(1.00,0.28),(1.20,0.33),(1.40,0.42),(1.60,0.47),(1.80,0.55),(2.00,0.62),(2.20,0.65),(2.40,0.72),(2.60,0.82),(2.80,0.80),(3.00,0.70),(3.30,0.55),(3.60,0.45),(4.00,0.30),(4.30,0.20),(4.60,0.25),(5.00,0.15),(5.40,0.25),(5.80,0.35),(6.20,0.45),(6.60,0.35),(7.00,0.30),(7.50,0.40),(8.00,0.35),(8.50,0.25),(9.00,0.35),(9.50,0.30),(10.0,0.40)]
d3_100 = [(0.50,0.20),(0.60,0.23),(0.70,0.27),(0.85,0.31),(1.00,0.35),(1.20,0.40),(1.50,0.45),(1.80,0.50),(2.00,0.58),(2.30,0.70),(2.50,0.82),(2.70,0.88),(2.90,0.86),(3.10,0.75),(3.30,0.80),(3.50,0.72),(3.80,0.50),(4.10,0.30),(4.40,0.20),(4.70,0.10),(5.00,0.20),(5.40,0.15),(5.80,0.30),(6.20,0.45),(6.60,0.30),(7.00,0.55),(7.40,0.35),(7.80,0.50),(8.20,0.30),(8.70,0.45),(9.20,0.25),(9.60,0.50),(10.0,0.35)]

# first natural frequencies (vertical lines): 100%, 80%, 50%, 25%
a1_fn = [1.83, 1.97, 2.13, 2.44]
b1_fn = [1.84, 1.99, 2.16, 2.45]
c1_fn = [1.84, 1.99, 2.16, 2.47]
d1_fn = [1.84, 1.98, 2.15, 2.45]
a2_fn = [1.19, 1.44, 2.50, 2.88]
b2_fn = [1.19, 1.44, 2.51, 2.89]
c2_fn = [1.20, 1.45, 2.52, 2.91]
d2_fn = [1.18, 1.43, 2.50, 2.86]
a3_fn = [2.81, 2.88, 2.97, 3.07]
b3_fn = [2.79, 2.86, 2.94, 3.05]
c3_fn = [2.78, 2.87, 2.95, 3.05]
d3_fn = [2.80, 2.88, 2.96, 3.05]

# ---------------- layout (annotation placements) ----------------
# (label, text_f, text_c, tail_f, tail_c, tip_f, tip_c); tail None -> no arrow
row1_notes = {
    'a': [('50%',2.54,1.11,2.37,1.03,2.14,0.93),('25%',3.49,0.93,3.03,0.86,2.50,0.77),
          ('80%',1.30,0.67,1.50,0.62,1.88,0.48),('100%',1.18,0.39,1.21,0.30,1.76,0.19)],
    'b': [('50%',2.66,1.11,2.44,1.04,2.25,0.94),('25%',3.62,0.96,2.96,0.87,2.59,0.79),
          ('80%',1.43,0.71,1.34,0.66,1.94,0.53),('100%',1.20,0.43,1.24,0.37,1.78,0.25)],
    'c': [('50%',1.93,1.11,1.94,1.04,2.12,0.90),('25%',3.50,1.07,3.07,0.99,2.53,0.87),
          ('80%',1.41,0.71,1.44,0.63,1.93,0.51),('100%',1.16,0.40,1.21,0.34,1.78,0.21)],
    'd': [('50%',1.84,1.15,1.93,1.08,2.08,0.95),('25%',3.12,1.12,3.06,1.07,2.55,0.91),
          ('80%',1.41,0.68,1.46,0.62,1.93,0.49),('100%',1.20,0.40,1.22,0.31,1.77,0.19)],
}
row2_notes = {
    'a': [('50%',2.25,1.07,None,None,None,None),('25%',3.31,1.07,None,None,None,None),
          ('100%',0.884,0.45,0.916,0.38,1.13,0.30),('80%',1.71,0.18,1.76,0.29,1.46,0.36)],
    'b': [('50%',2.28,1.08,None,None,None,None),('25%',3.33,1.08,None,None,None,None),
          ('100%',0.96,0.18,0.91,0.29,1.14,0.43),('80%',1.72,0.16,1.63,0.28,1.48,0.39)],
    'c': [('50%',2.29,1.07,None,None,None,None),('25%',3.30,1.07,None,None,None,None),
          ('100%',0.93,0.16,1.02,0.29,1.13,0.38),('80%',1.76,0.16,1.64,0.29,1.49,0.38)],
    'd': [('50%',2.19,1.07,None,None,None,None),('25%',3.23,1.07,None,None,None,None),
          ('100%',0.93,0.21,0.88,0.36,1.11,0.51),('80%',1.69,0.19,1.66,0.30,1.47,0.44)],
}
row3_notes = {
    'a': [('100%',1.73,1.08,2.14,1.05,2.67,0.95),('80%',2.50,1.26,2.58,1.19,2.81,1.04),
          ('50%',3.82,1.26,3.32,1.19,3.02,1.04),('25%',5.17,1.10,4.41,1.06,3.15,0.96)],
    'b': [('100%',1.76,1.06,2.22,1.04,2.70,0.96),('80%',2.47,1.24,2.51,1.17,2.77,1.03),
          ('50%',3.91,1.24,3.33,1.17,3.05,1.03),('25%',5.19,1.08,4.35,1.04,3.20,0.97)],
    'c': [('100%',1.71,1.06,2.15,1.03,2.70,0.87),('80%',2.48,1.24,2.57,1.16,2.83,1.03),
          ('50%',3.79,1.24,3.23,1.16,3.03,1.03),('25%',5.11,1.07,4.28,1.03,3.17,0.94)],
    'd': [('100%',1.72,1.08,2.15,1.05,2.67,0.95),('80%',2.50,1.26,2.58,1.19,2.82,1.04),
          ('50%',3.82,1.26,3.30,1.19,3.00,1.04),('25%',5.20,1.10,4.40,1.06,3.15,0.96)],
}

panels = {
    (0, 'a'): (a1_25, a1_50, a1_80, a1_100, a1_fn), (0, 'b'): (b1_25, b1_50, b1_80, b1_100, b1_fn),
    (0, 'c'): (c1_25, c1_50, c1_80, c1_100, c1_fn), (0, 'd'): (d1_25, d1_50, d1_80, d1_100, d1_fn),
    (1, 'a'): (a2_25, a2_50, a2_80, a2_100, a2_fn), (1, 'b'): (b2_25, b2_50, b2_80, b2_100, b2_fn),
    (1, 'c'): (c2_25, c2_50, c2_80, c2_100, c2_fn), (1, 'd'): (d2_25, d2_50, d2_80, d2_100, d2_fn),
    (2, 'a'): (a3_25, a3_50, a3_80, a3_100, a3_fn), (2, 'b'): (b3_25, b3_50, b3_80, b3_100, b3_fn),
    (2, 'c'): (c3_25, c3_50, c3_80, c3_100, c3_fn), (2, 'd'): (d3_25, d3_50, d3_80, d3_100, d3_fn),
}
notes = [row1_notes, row2_notes, row3_notes]

sty25 = dict(color='#ff0000', lw=1.2, zorder=3)
sty50 = dict(color='#c9a0d4', lw=3.4, zorder=2, solid_capstyle='butt')
sty80 = dict(color='#22ee22', lw=1.8, ls=(0, (2.2, 1.7)), zorder=3)
sty100 = dict(color='#0000ff', lw=2.0, ls=(0, (6, 1.6)), zorder=3)
styles = [sty25, sty50, sty80, sty100]

FW, FH = 1343, 655
fig = plt.figure(figsize=(FW / 100, FH / 100), dpi=100)

col_left = {'a': 43, 'b': 380, 'c': 718, 'd': 1046}
row_top = [107, 289, 472]
AW, AH = 283, 113

for (r, col), (s25, s50, s80, s100, fn) in panels.items():
    ax = fig.add_axes([col_left[col] / FW, 1 - (row_top[r] + AH) / FH, AW / FW, AH / FH])
    for pts, st in zip((s50, s25, s80, s100), (sty50, sty25, sty80, sty100)):
        ax.plot([p[0] for p in pts], [p[1] for p in pts], **st)
    ax.vlines(fn, 0, 1.0, colors='black', lw=1.1, zorder=4)
    ax.set_xscale('log')
    ax.set_xlim(0.5, 10)
    ax.set_ylim(0, 1.01)
    ax.xaxis.set_major_locator(FixedLocator([1, 10]))
    ax.set_xticklabels(['1', '10'])
    ax.xaxis.set_minor_locator(LogLocator(base=10, subs=range(2, 10)))
    ax.xaxis.set_minor_formatter(NullFormatter())
    ax.yaxis.set_major_locator(FixedLocator([0, 0.5, 1]))
    ax.set_yticklabels(['0', '0.5', '1'])
    ax.yaxis.set_minor_locator(MultipleLocator(0.1))
    for s in ('top', 'right'):
        ax.spines[s].set_visible(False)
    for s in ('left', 'bottom'):
        ax.spines[s].set_linewidth(1.2)
    ax.tick_params(which='both', direction='in', width=1.0)
    ax.tick_params(which='major', length=6, labelsize=15)
    ax.tick_params(axis='y', which='major', pad=4)
    ax.tick_params(axis='x', which='major', pad=7)
    ax.tick_params(which='minor', length=3.5)
    ax.text(0.0, 1.045, 'Coherence', transform=ax.transAxes, ha='left', va='baseline',
            fontsize=14.5)
    ax.text(1.03, 0.06, '$f$(Hz)', transform=ax.transAxes, ha='right', va='baseline',
            fontsize=15, zorder=1)
    for lab, tf, tc, af, ac, hf, hc in notes[r][col]:
        ax.text(tf, tc, lab, ha='center', va='center', fontsize=12, clip_on=False, zorder=6)
        if af is not None:
            ax.annotate('', xy=(hf, hc), xytext=(af, ac), annotation_clip=False,
                        arrowprops=dict(arrowstyle='-|>,head_length=0.55,head_width=0.22',
                                        color='black', lw=1.6, shrinkA=0, shrinkB=0,
                                        mutation_scale=14), zorder=6)

# column captions
for x, t in zip([167, 503, 856, 1182], panel_titles):
    fig.text(x / FW, 1 - 637 / FH, t, ha='center', va='center', fontsize=16)

# legend
leg_y = 1 - 20 / FH
leg_pos = [(26, 78, 95), (297, 351, 369), (568, 623, 642), (842, 889, 911)]
for (x0, x1, tx), st, lab in zip(leg_pos, styles, series_labels):
    st2 = {k: v for k, v in st.items() if k != 'zorder'}
    fig.add_artist(Line2D([x0 / FW, x1 / FW], [leg_y, leg_y], transform=fig.transFigure, **st2))
    fig.text(tx / FW, leg_y, lab, ha='left', va='center', fontsize=15)
fig.text(1184 / FW, leg_y, '※縦線は,', ha='left', va='center', fontsize=15)
fig.text(1184 / FW, 1 - 58 / FH, '一次固有振動数', ha='left', va='center', fontsize=15)

fig.savefig('out.png', dpi=100)
